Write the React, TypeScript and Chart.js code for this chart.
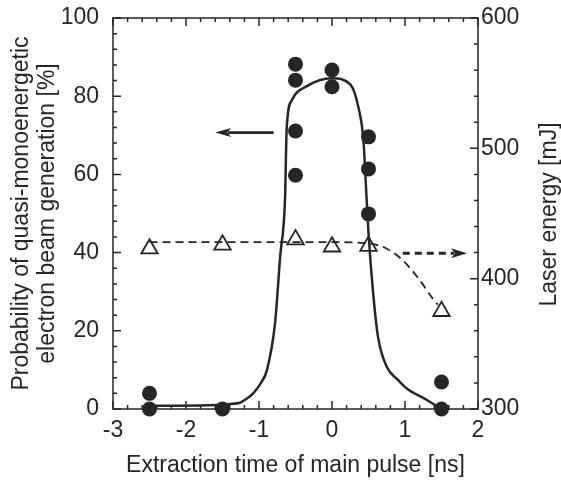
import React, { useEffect, useRef } from "react";
import { Chart, registerables } from "chart.js";

Chart.register(...registerables);

// Measured probability points (left axis, %)
const probTimes = [-2.5, -2.5, -1.5, -0.5, -0.5, -0.5, -0.5, 0, 0, 0.5, 0.5, 0.5, 1.5, 1.5];
const probValues = [4, 0, 0, 88.2, 84.1, 71.1, 59.8, 86.7, 82.4, 69.6, 61.4, 49.9, 6.9, 0];

// Measured laser energy points (right axis, mJ)
const energyTimes = [-2.5, -1.5, -0.5, 0, 0.5, 1.5];
const energyValues = [423, 426, 430, 424.5, 425, 375];

// Guide curve for probability (solid)
const probFitTimes = [-2.5, -1.5, -1.4, -1.26, -1.18, -1.08, -0.98, -0.89, -0.78, -0.71, -0.644, -0.62, -0.55, -0.35, 0, 0.25, 0.36, 0.43, 0.475, 0.5, 0.56, 0.63, 0.75, 0.9, 1.02, 1.3, 1.48];
const probFitValues = [0.8, 1.1, 1.3, 1.6, 2.5, 4, 6.5, 10, 22, 39, 53.5, 72, 79, 82.5, 84.6, 83, 77.3, 68.8, 53.5, 45, 30.4, 18.5, 10.8, 7.5, 5.3, 2.3, 0.2];

// Guide curve for energy (dashed)
const energyFitTimes = [-2.5, -1.5, -0.5, 0, 0.5, 0.75, 0.97, 1.2, 1.39, 1.45];
const energyFitValues = [428, 428, 428, 428, 427, 423, 414, 399, 384, 380];

// Axis arrows: [from time, to time, value]
const probArrow = [-0.8, -1.6, 70.7];
const energyArrow = [0.97, 1.85, 419.5];

// Tick definitions
const xTickMin = -3, xTickMax = 2, xMinorStep = 0.2, xMajorStep = 1;
const yTickMin = 0, yTickMax = 100, yMinorStep = 4, yMajorStep = 20;
const y2TickMin = 300, y2TickMax = 600, y2MinorStep = 20, y2MajorStep = 100;

// Axis titles
const xTitle = "Extraction time of main pulse [ns]";
const yTitle = ["Probability of quasi-monoenergetic", "electron beam generation [%]"];
const y2Title = "Laser energy [mJ]";

const ink = "#262626";
const family = '"Liberation Sans", Arial, Helvetica, sans-serif';
const fontSize = 23;

function pts(xs: number[], ys: number[]) {
  return xs.map((x, i) => ({ x, y: ys[i] }));
}

function isMajor(v: number, step: number) {
  const r = Math.abs(v / step - Math.round(v / step));
  return r < 1e-6;
}

function zeroPad(scale: any) {
  scale.paddingTop = 0;
  scale.paddingBottom = 0;
  scale.paddingLeft = 0;
  scale.paddingRight = 0;
}

function drawArrow(ctx: CanvasRenderingContext2D, x1: number, y1: number, x2: number, y2: number, dashed: boolean) {
  const dir = Math.sign(x2 - x1);
  const headLen = 16;
  const half = dashed ? 5 : 4.5;
  ctx.save();
  ctx.strokeStyle = ink;
  ctx.fillStyle = ink;
  ctx.lineWidth = dashed ? 3 : 2.8;
  ctx.setLineDash(dashed ? [7, 5] : []);
  ctx.beginPath();
  ctx.moveTo(x1, y1);
  ctx.lineTo(x2 - dir * headLen * 0.8, y2);
  ctx.stroke();
  ctx.setLineDash([]);
  ctx.beginPath();
  ctx.moveTo(x2, y2);
  ctx.lineTo(x2 - dir * headLen, y2 - half);
  ctx.lineTo(x2 - dir * headLen * 0.75, y2);
  ctx.lineTo(x2 - dir * headLen, y2 + half);
  ctx.closePath();
  ctx.fill();
  ctx.restore();
}

const framePlugin = {
  id: "frameTicks",
  beforeDatasetsDraw(chart: any) {
    const { ctx, chartArea: a, scales } = chart;
    ctx.save();
    ctx.strokeStyle = ink;
    ctx.lineWidth = 1.5;
    ctx.strokeRect(a.left, a.top, a.right - a.left, a.bottom - a.top);
    ctx.beginPath();
    const nx = Math.round((xTickMax - xTickMin) / xMinorStep);
    for (let i = 0; i <= nx; i++) {
      const v = xTickMin + i * xMinorStep;
      const len = isMajor(v, xMajorStep) ? 8 : 4;
      const p = scales.x.getPixelForValue(v);
      ctx.moveTo(p, a.bottom);
      ctx.lineTo(p, a.bottom - len);
      ctx.moveTo(p, a.top);
      ctx.lineTo(p, a.top + len);
    }
    const ny = Math.round((yTickMax - yTickMin) / yMinorStep);
    for (let i = 0; i <= ny; i++) {
      const v = yTickMin + i * yMinorStep;
      const len = isMajor(v, yMajorStep) ? 8 : 4;
      const p = scales.y.getPixelForValue(v);
      ctx.moveTo(a.left, p);
      ctx.lineTo(a.left + len, p);
    }
    const ny2 = Math.round((y2TickMax - y2TickMin) / y2MinorStep);
    for (let i = 0; i <= ny2; i++) {
      const v = y2TickMin + i * y2MinorStep;
      const len = isMajor(v, y2MajorStep) ? 8 : 4;
      const p = scales.y2.getPixelForValue(v);
      ctx.moveTo(a.right, p);
      ctx.lineTo(a.right - len, p);
    }
    ctx.stroke();
    ctx.restore();
  },
  afterDatasetsDraw(chart: any) {
    const { ctx, scales } = chart;
    drawArrow(
      ctx,
      scales.x.getPixelForValue(probArrow[0]),
      scales.y.getPixelForValue(probArrow[2]),
      scales.x.getPixelForValue(probArrow[1]),
      scales.y.getPixelForValue(probArrow[2]),
      false
    );
    drawArrow(
      ctx,
      scales.x.getPixelForValue(energyArrow[0]),
      scales.y2.getPixelForValue(energyArrow[2]),
      scales.x.getPixelForValue(energyArrow[1]),
      scales.y2.getPixelForValue(energyArrow[2]),
      true
    );
  },
  afterDraw(chart: any) {
    const { ctx, chartArea: a } = chart;
    ctx.save();
    ctx.fillStyle = ink;
    ctx.font = `${fontSize}px ${family}`;
    ctx.textAlign = "center";
    ctx.textBaseline = "middle";
    ctx.translate(550, (a.top + a.bottom) / 2 + 1);
    ctx.rotate(-Math.PI / 2);
    ctx.fillText(y2Title, 0, 0);
    ctx.restore();
  },
};

export default function App() {
  const ref = useRef<HTMLCanvasElement | null>(null);

  useEffect(() => {
    if (!ref.current) return;
    const font = { family, size: fontSize };
    const chart = new Chart(ref.current, {
      type: "scatter",
      data: {
        datasets: [
          {
            label: "prob fit",
            data: pts(probFitTimes, probFitValues),
            showLine: true,
            borderColor: ink,
            borderWidth: 2.5,
            pointRadius: 0,
            cubicInterpolationMode: "monotone",
            yAxisID: "y",
            clip: false,
          },
          {
            label: "energy fit",
            data: pts(energyFitTimes, energyFitValues),
            showLine: true,
            borderColor: ink,
            borderWidth: 1.8,
            borderDash: [8, 5],
            pointRadius: 0,
            cubicInterpolationMode: "monotone",
            yAxisID: "y2",
            clip: false,
          },
          {
            label: "energy",
            data: pts(energyTimes, energyValues),
            pointStyle: "triangle",
            pointRadius: 9.5,
            pointBorderWidth: 1.8,
            borderColor: ink,
            backgroundColor: "#ffffff",
            yAxisID: "y2",
            clip: false,
          },
          {
            label: "probability",
            data: pts(probTimes, probValues),
            pointStyle: "circle",
            pointRadius: 7.5,
            borderWidth: 0,
            backgroundColor: ink,
            borderColor: ink,
            yAxisID: "y",
            clip: false,
          },
        ],
      },
      options: {
        animation: false,
        responsive: false,
        maintainAspectRatio: false,
        layout: { padding: { top: 18, left: 0, right: 0, bottom: 0 } },
        plugins: { legend: { display: false }, tooltip: { enabled: false } },
        scales: {
          x: {
            type: "linear",
            min: xTickMin,
            max: xTickMax,
            grid: { display: false, drawTicks: false },
            border: { display: false },
            ticks: { stepSize: xMajorStep, font, color: ink, padding: 8 },
            title: {
              display: true,
              text: xTitle,
              font: { family, size: fontSize, lineHeight: 1.15 },
              color: ink,
              padding: { top: 0, bottom: 2 },
            },
            afterFit(scale: any) {
              scale.height = 72;
              zeroPad(scale);
            },
          },
          y: {
            type: "linear",
            position: "left",
            min: yTickMin,
            max: yTickMax,
            grid: { display: false, drawTicks: false },
            border: { display: false },
            ticks: { stepSize: yMajorStep, font, color: ink, padding: 14 },
            title: {
              display: true,
              text: yTitle,
              font: { family, size: fontSize, lineHeight: "26px" },
              color: ink,
              padding: { top: 9, bottom: 0 },
            },
            afterFit(scale: any) {
              scale.width = 113;
              zeroPad(scale);
            },
          },
          y2: {
            type: "linear",
            position: "right",
            min: y2TickMin,
            max: y2TickMax,
            grid: { display: false, drawTicks: false },
            border: { display: false },
            ticks: { stepSize: y2MajorStep, font, color: ink, padding: 3 },
            title: { display: false },
            afterFit(scale: any) {
              scale.width = 83;
              zeroPad(scale);
            },
          },
        },
      },
      plugins: [framePlugin],
    } as any);
    return () => chart.destroy();
  }, []);

  return (
    <div style={{ position: "fixed", left: 0, top: 0, width: 561, height: 481, background: "#fff" }}>
      <canvas ref={ref} width={561} height={481} style={{ display: "block", width: 561, height: 481 }} />
    </div>
  );
}
